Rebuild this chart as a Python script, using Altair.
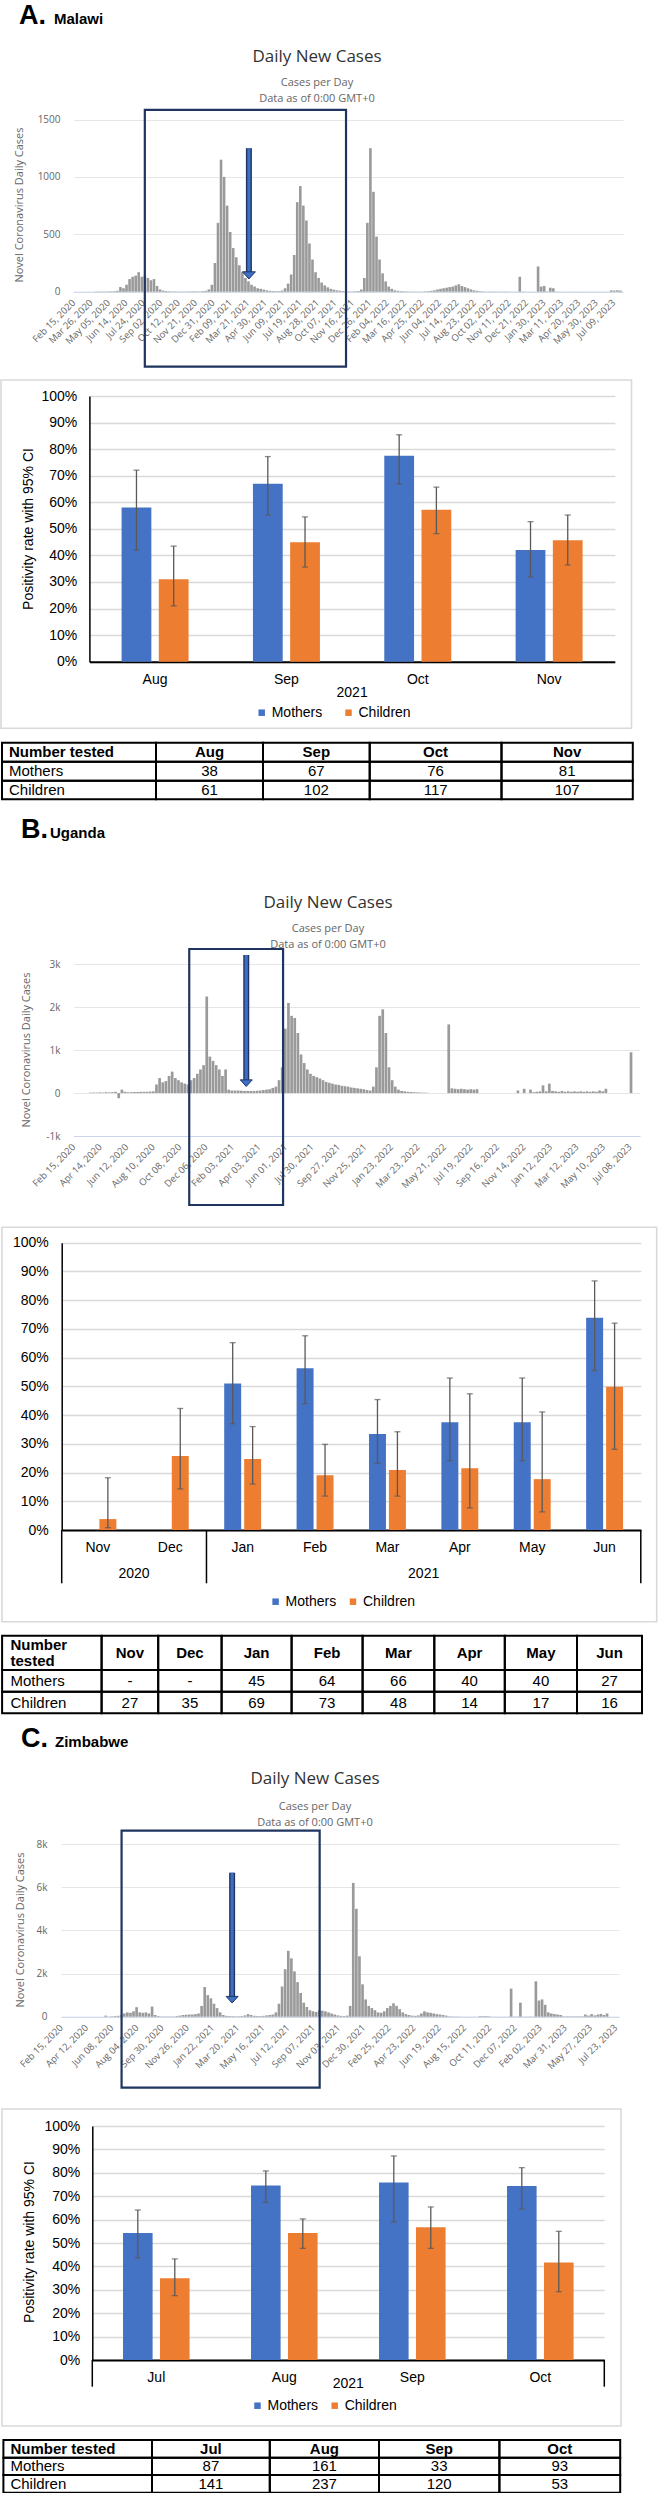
import altair as alt
import pandas as pd

W = 658
HC = "Open Sans"
XL = "Liberation Sans"

# ---------------------------------------------------------------- data
first_week = "2020-02-15"
last_day = "2023-07-31"

# weekly daily-case levels (week starting first_week)
malawi_weekly_cases = [
    0, 0, 0, 0, 0, 0, 0, 1, 1, 2,
    2, 3, 4, 5, 8, 40, 30, 60, 110, 130,
    140, 170, 130, 140, 120, 100, 110, 50, 20, 10,
    6, 4, 3, 3, 2, 2, 2, 3, 3, 4,
    3, 3, 5, 8, 20, 60, 250, 600, 1150, 1000,
    750, 520, 380, 300, 230, 170, 120, 90, 60, 45,
    30, 25, 18, 12, 8, 6, 5, 5, 10, 30,
    70, 150, 320, 780, 920, 750, 620, 420, 280, 170,
    120, 80, 55, 38, 25, 18, 12, 9, 6, 5,
    3, 3, 4, 6, 20, 120, 600, 1250, 870, 480,
    280, 160, 90, 45, 25, 12, 8, 5, 4, 3,
    2, 2, 2, 2, 2, 3, 5, 8, 12, 20,
    25, 30, 35, 40, 45, 55, 65, 50, 40, 30,
    20, 12, 8, 5, 3, 2, 2, 2, 2, 2,
    2, 2, 2, 1, 1, 1, 130, 2, 1, 1,
    1, 1, 220, 45, 50, 3, 35, 30, 2, 1,
    1, 1, 1, 1, 1, 1, 1, 1, 1, 1,
    1, 1, 1, 1, 1, 1, 12, 10, 12, 10,
]
uganda_weekly_cases = [
    0, 0, 0, 0, 0, 10, 12, 10, 15, 12,
    20, 15, 20, 30, -120, 80, 30, 20, 20, 25,
    25, 30, 30, 30, 35, 40, 200, 350, 250, 280,
    400, 500, 350, 300, 250, 220, 200, 300, 350, 450,
    550, 650, 2250, 850, 750, 650, 550, 400, 550, 80,
    60, 60, 60, 55, 50, 50, 50, 50, 55, 60,
    70, 80, 90, 120, 150, 300, 600, 1500, 2100, 1800,
    1750, 1400, 900, 700, 550, 450, 400, 370, 340, 300,
    260, 240, 220, 200, 190, 170, 160, 150, 130, 120,
    110, 100, 90, 70, 60, 150, 600, 1800, 1950, 1400,
    600, 300, 150, 80, 50, 40, 30, 25, 20, 15,
    12, 10, 8, 0, 0, 0, 0, 0, 0, 1600,
    110, 100, 90, 100, 90, 80, 90, 80, 90, 0,
    0, 0, 0, 0, 0, 0, 0, 0, 0, 0,
    0, 60, 0, 100, 0, 80, 20, 30, 40, 180,
    40, 220, 50, 40, 30, 50, 30, 40, 30, 40,
    30, 40, 30, 40, 30, 40, 30, 60, 40, 100,
    0, 0, 0, 0, 0, 0, 0, 950, 0, 0,
]
zimbabwe_weekly_cases = [
    0, 0, 0, 0, 0, 0, 0, 0, 0, 0,
    0, 0, 0, 0, 50, 10, 20, 30, 40, 60,
    150, 200, 180, 250, 440, 200, 180, 200, 150, 470,
    80, 30, 15, 15, 15, 15, 15, 30, 50, 80,
    90, 100, 100, 120, 150, 500, 1375, 1000, 850, 600,
    400, 200, 80, 40, 30, 25, 20, 20, 30, 60,
    120, 80, 40, 30, 30, 40, 60, 80, 100, 200,
    600, 1400, 2200, 3050, 2700, 2100, 1600, 1100, 650, 450,
    300, 250, 220, 300, 280, 250, 200, 150, 100, 60,
    40, 30, 50, 500, 6200, 5000, 2800, 1500, 800, 500,
    400, 300, 200, 180, 250, 400, 500, 620, 500, 350,
    200, 120, 80, 50, 40, 60, 150, 250, 200, 180,
    150, 120, 100, 80, 50, 20, 15, 10, 10, 5,
    5, 5, 5, 5, 5, 30, 25, 30, 20, 5,
    5, 5, 5, 5, 5, 1300, 10, 10, 650, 10,
    10, 10, 10, 1640, 750, 800, 550, 200, 150, 120,
    100, 80, 20, 20, 20, 20, 20, 20, 20, 100,
    50, 120, 60, 100, 130, 80, 150, 0, 0, 0,
]

malawi_tick_dates = [
    "2020-02-15", "2020-03-26", "2020-05-05", "2020-06-14", "2020-07-24", "2020-09-02",
    "2020-10-12", "2020-11-21", "2020-12-31", "2021-02-09", "2021-03-21", "2021-04-30",
    "2021-06-09", "2021-07-19", "2021-08-28", "2021-10-07", "2021-11-16", "2021-12-26",
    "2022-02-04", "2022-03-16", "2022-04-25", "2022-06-04", "2022-07-14", "2022-08-23",
    "2022-10-02", "2022-11-11", "2022-12-21", "2023-01-30", "2023-03-11", "2023-04-20",
    "2023-05-30", "2023-07-09",
]
uganda_tick_dates = [
    "2020-02-15", "2020-04-14", "2020-06-12", "2020-08-10", "2020-10-08", "2020-12-06",
    "2021-02-03", "2021-04-03", "2021-06-01", "2021-07-30", "2021-09-27", "2021-11-25",
    "2022-01-23", "2022-03-23", "2022-05-21", "2022-07-19", "2022-09-16", "2022-11-14",
    "2023-01-12", "2023-03-12", "2023-05-10", "2023-07-08",
]
zimbabwe_tick_dates = [
    "2020-02-15", "2020-04-12", "2020-06-08", "2020-08-04", "2020-09-30", "2020-11-26",
    "2021-01-22", "2021-03-20", "2021-05-16", "2021-07-12", "2021-09-07", "2021-11-03",
    "2021-12-30", "2022-02-25", "2022-04-23", "2022-06-19", "2022-08-15", "2022-10-11",
    "2022-12-07", "2023-02-02", "2023-03-31", "2023-05-27", "2023-07-23",
]

# highlighted study period boxes: [from, to, low value, high value]
malawi_box = ["2020-07-28", "2021-11-02", -653, 1583]
uganda_box = ["2020-10-30", "2021-05-27", -2607, 3356]
zimbabwe_box = ["2020-07-01", "2021-09-22", -3289, 8616]
# arrows: [date, top value, head base value, tip value]
malawi_arrow = ["2021-03-24", 1250, 172, 111]
uganda_arrow = ["2021-03-06", 3217, 310, 154]
zimbabwe_arrow = ["2021-03-08", 6670, 899, 635]

SERIES = ["Mothers", "Children"]
COLORS = ["#4472C4", "#ED7D31"]

malawi_months = ["Aug", "Sep", "Oct", "Nov"]
malawi_years = ["2021", "2021", "2021", "2021"]
malawi_mothers = [58, 67, 77.5, 42]
malawi_mothers_lo = [42, 55.2, 66.9, 31.9]
malawi_mothers_hi = [72.1, 77.2, 85.4, 52.7]
malawi_children = [31, 45, 57.2, 45.7]
malawi_children_lo = [21, 35.6, 48.2, 36.4]
malawi_children_hi = [43.5, 54.5, 65.7, 55.2]
malawi_n_mothers = [38, 67, 76, 81]
malawi_n_children = [61, 102, 117, 107]

uganda_months = ["Nov", "Dec", "Jan", "Feb", "Mar", "Apr", "May", "Jun"]
uganda_years = ["2020", "2020", "2021", "2021", "2021", "2021", "2021", "2021"]
uganda_mothers = [None, None, 51, 56.3, 33.4, 37.5, 37.5, 73.9]
uganda_mothers_lo = [None, None, 37, 44, 23.2, 24.1, 24.1, 55.5]
uganda_mothers_hi = [None, None, 65.2, 67.6, 45.4, 52.9, 52.9, 86.7]
uganda_children = [3.8, 25.8, 24.7, 19.1, 20.9, 21.5, 17.7, 49.9]
uganda_children_lo = [0.8, 14.3, 16.0, 11.8, 11.8, 7.7, 6.3, 28.1]
uganda_children_hi = [18.2, 42.3, 36.0, 29.8, 34.2, 47.4, 41.1, 72.0]
uganda_n_mothers = ["-", "-", 45, 64, 66, 40, 40, 27]
uganda_n_children = [27, 35, 69, 73, 48, 14, 17, 16]

zimbabwe_months = ["Jul", "Aug", "Sep", "Oct"]
zimbabwe_years = ["2021", "2021", "2021", "2021"]
zimbabwe_mothers = [54.3, 74.6, 75.9, 74.4]
zimbabwe_mothers_lo = [43.6, 67.4, 59.0, 64.5]
zimbabwe_mothers_hi = [64.1, 80.8, 87.2, 82.2]
zimbabwe_children = [34.9, 54.3, 56.7, 41.7]
zimbabwe_children_lo = [27.5, 47.7, 47.7, 29.2]
zimbabwe_children_hi = [43.2, 60.3, 65.4, 55.0]
zimbabwe_n_mothers = [87, 161, 33, 93]
zimbabwe_n_children = [141, 237, 120, 53]

HEAD = "M-1,-1.1L1,-1.1L0,0Z"


# ---------------------------------------------------------------- helpers
def dt(s):
    y, m, d = (int(v) for v in s.split("-"))
    return alt.DateTime(year=y, month=m, date=d, utc=True)


def txt(s, x, y, size, color="#000000", font=XL, weight="normal", align="center",
        baseline="alphabetic", angle=0):
    return alt.Chart(pd.DataFrame({"t": [s]})).mark_text(
        align=align, baseline=baseline, fontSize=size, font=font, fontWeight=weight,
        color=color, angle=angle,
    ).encode(x=alt.value(x), y=alt.value(y), text="t:N")


def daily_panel(weekly, ticks, box, arrow, ydom, yvals, ylabel_expr, xr, yr, h,
                letter, country, letter_x, country_x, letter_base, title_x, title_base,
                sub_bases, ytitle_xy, ylab_right, head_w):
    start = pd.date_range(first_week, periods=len(weekly), freq="7D")
    df = pd.DataFrame({
        "start": start.strftime("%Y-%m-%d"),
        "end": (start + pd.Timedelta(days=6)).strftime("%Y-%m-%d"),
        "cases": weekly,
    })
    xs = alt.Scale(type="utc", domain=[dt(first_week), dt(last_day)], range=[xr[0], xr[1]], nice=False)
    ys = alt.Scale(domain=ydom, range=[yr[0], yr[1]], nice=False, zero=False)
    xaxis = alt.Axis(
        values=[dt(t) for t in ticks], format="%b %d, %Y", labelAngle=315,
        labelAlign="right", labelBaseline="middle", labelFont=HC, labelFontSize=9.5,
        labelColor="#666666", ticks=False, tickSize=0, grid=False, domainColor="#ccd6eb",
        domainWidth=1, labelPadding=9, offset=-(h - yr[0]), labelOverlap=False,
        labelFlush=False, labelBound=False, title=None,
    )
    yaxis = alt.Axis(
        values=yvals, labelExpr=ylabel_expr, labelFont=HC, labelFontSize=10,
        labelColor="#666666", ticks=False, tickSize=0, domain=False, grid=True,
        gridColor="#e6e6e6", gridWidth=1, offset=-xr[0], labelPadding=xr[0] - ylab_right,
        labelAlign="right", labelBaseline="middle", labelOverlap=False, title=None,
    )

    def X(f):
        return alt.X(f, scale=xs, axis=xaxis)

    def Y(f):
        return alt.Y(f, scale=ys, axis=yaxis)

    bars = alt.Chart(df).mark_rect(color="#9a9a9a").encode(
        x=X("start:T"), x2="end:T", y=Y("cases:Q"), y2=alt.datum(0))
    bdf = pd.DataFrame({"d0": [box[0]], "d1": [box[1]], "v0": [box[2]], "v1": [box[3]]})
    boxl = alt.Chart(bdf).mark_rect(fillOpacity=0, stroke="#1f3560", strokeWidth=2.2).encode(
        x=X("d0:T"), x2="d1:T", y=Y("v0:Q"), y2="v1:Q")
    adf = pd.DataFrame({"d": [arrow[0]], "top": [arrow[1]], "base": [arrow[2]], "tip": [arrow[3]]})
    shaft_o = alt.Chart(adf).mark_rule(color="#1f3560", strokeWidth=6).encode(
        x=X("d:T"), y=Y("top:Q"), y2="base:Q")
    shaft_i = alt.Chart(adf).mark_rule(color="#3f6fc4", strokeWidth=3.2).encode(
        x=X("d:T"), y=Y("top:Q"), y2="base:Q")
    head = alt.Chart(adf).mark_point(
        shape=HEAD, filled=True, fill="#3f6fc4", stroke="#1f3560", strokeWidth=1,
        size=head_w * head_w, opacity=1,
    ).encode(x=X("d:T"), y=Y("tip:Q"))

    layers = [
        bars, boxl, shaft_o, shaft_i, head,
        txt(letter, letter_x, letter_base, 27, weight="bold", align="left"),
        txt(country, country_x, letter_base, 15, weight="bold", align="left"),
        txt("Daily New Cases", title_x, title_base, 17, color="#333333", font=HC),
        txt("Cases per Day", title_x, sub_bases[0], 11, color="#666666", font=HC),
        txt("Data as of 0:00 GMT+0", title_x, sub_bases[1], 11, color="#666666", font=HC),
        txt("Novel Coronavirus Daily Cases", ytitle_xy[0], ytitle_xy[1], 11, color="#666666",
            font=HC, baseline="middle", angle=270),
    ]
    return alt.layer(*layers).properties(width=W, height=h)


def bar_panel(months, years, mothers, m_lo, m_hi, children, c_lo, c_hi, xr, yr, h, pin, opad,
              box, legend_pos, cpad, ytitle_xy, year_y, sep_mode, sep_y2, ylab_right, month_pad):
    recs = []
    for i, m in enumerate(months):
        for s, v, lo, hi in (("Mothers", mothers[i], m_lo[i], m_hi[i]),
                             ("Children", children[i], c_lo[i], c_hi[i])):
            if v is None:
                continue
            recs.append({"month": m, "series": s, "value": v, "lo": lo, "hi": hi})
    df = pd.DataFrame(recs)
    xs = alt.Scale(domain=months, range=[xr[0], xr[1]], paddingInner=pin, paddingOuter=pin / 2)
    xos = alt.Scale(domain=SERIES, paddingInner=opad, paddingOuter=0)
    ys = alt.Scale(domain=[0, 100], range=[yr[0], yr[1]], nice=False)
    xaxis = alt.Axis(
        title=None, labelAngle=0, labelFont=XL, labelFontSize=14, labelColor="#000000",
        labelBaseline="middle", labelPadding=month_pad, ticks=False, tickSize=0,
        domainColor="#000000", domainWidth=2, grid=False, offset=-(h - yr[0]),
    )
    yaxis = alt.Axis(
        title=None, values=list(range(0, 101, 10)), labelExpr="datum.value + '%'",
        labelFont=XL, labelFontSize=14, labelColor="#000000", labelPadding=xr[0] - ylab_right,
        ticks=False, tickSize=0, domainColor="#000000", domainWidth=1.5, grid=True,
        gridColor="#d9d9d9", gridWidth=1.5, offset=-xr[0], labelOverlap=False,
    )
    X = alt.X("month:N", scale=xs, axis=xaxis, sort=months)
    XO = alt.XOffset("series:N", scale=xos, sort=SERIES)
    bars = alt.Chart(df).mark_bar().encode(
        x=X, xOffset=XO, y=alt.Y("value:Q", scale=ys, axis=yaxis),
        color=alt.Color(
            "series:N", sort=SERIES, scale=alt.Scale(domain=SERIES, range=COLORS),
            legend=alt.Legend(
                orient="none", legendX=legend_pos[0], legendY=legend_pos[1],
                direction="horizontal", title=None, symbolType="square", symbolSize=42,
                symbolStrokeWidth=0, labelFont=XL, labelFontSize=14, labelColor="#000000",
                labelOffset=3, columnPadding=cpad, padding=0,
            ),
        ),
    )
    err = alt.Chart(df).mark_rule(color="#595959", strokeWidth=1.3).encode(
        x=X, xOffset=XO, y=alt.Y("lo:Q", scale=ys, axis=yaxis), y2="hi:Q")
    cap_lo = alt.Chart(df).mark_tick(color="#595959", thickness=1.3, size=6, orient="horizontal").encode(
        x=X, xOffset=XO, y=alt.Y("lo:Q", scale=ys, axis=yaxis))
    cap_hi = alt.Chart(df).mark_tick(color="#595959", thickness=1.3, size=6, orient="horizontal").encode(
        x=X, xOffset=XO, y=alt.Y("hi:Q", scale=ys, axis=yaxis))
    inner = alt.layer(bars, err, cap_lo, cap_hi)

    groups = []
    for i, yv in enumerate(years):
        if groups and groups[-1]["year"] == yv:
            groups[-1]["end"] = i + 1
        else:
            groups.append({"year": yv, "start": i, "end": i + 1})
    gdf = pd.DataFrame([{"year": g["year"], "pos": (g["start"] + g["end"]) / 2} for g in groups])
    idx = alt.Scale(domain=[0, len(months)], range=[xr[0], xr[1]], nice=False, zero=False)
    annot_layers = [
        alt.Chart(gdf).mark_text(font=XL, fontSize=14, color="#000000", baseline="middle").encode(
            x=alt.X("pos:Q", scale=idx, axis=None), y=alt.value(year_y), text="year:N")
    ]
    if sep_mode:
        if sep_mode == "groups":
            bpos = sorted(set([g["start"] for g in groups] + [len(months)]))
        else:
            bpos = [0, len(months)]
        sdf = pd.DataFrame({"pos": bpos})
        annot_layers.append(
            alt.Chart(sdf).mark_rule(color="#000000", strokeWidth=1.5).encode(
                x=alt.X("pos:Q", scale=idx, axis=None), y=alt.value(yr[0]), y2=alt.value(sep_y2))
        )
    annot = alt.layer(*annot_layers)
    frame = alt.Chart(pd.DataFrame({"a": [0]})).mark_rect(
        fillOpacity=0, stroke="#d9d9d9", strokeWidth=1.6
    ).encode(x=alt.value(box[0]), x2=alt.value(box[1]), y=alt.value(box[2]), y2=alt.value(box[3]))
    layers = [frame, inner, annot]
    if ytitle_xy:
        layers.append(txt("Positivity rate with 95% CI", ytitle_xy[0], ytitle_xy[1], 14,
                          baseline="middle", angle=270))
    return alt.layer(*layers).resolve_scale(x="independent").properties(width=W, height=h)


def table_panel(header_label, months, n_mothers, n_children, cols, rows_y, h, text_dx, line_h=16):
    n = len(cols) - 1
    cells = []
    for r in range(3):
        for c in range(n):
            cells.append({"x0": cols[c], "x1": cols[c + 1], "y0": rows_y[r], "y1": rows_y[r + 1]})
    tx = alt.Scale(domain=[0, W], range=[0, W], nice=False, zero=False)
    ty = alt.Scale(domain=[0, h], range=[0, h], nice=False, zero=False)
    grid = alt.Chart(pd.DataFrame(cells)).mark_rect(fillOpacity=0, stroke="#000000", strokeWidth=2).encode(
        x=alt.X("x0:Q", scale=tx, axis=None), x2="x1:Q",
        y=alt.Y("y0:Q", scale=ty, axis=None), y2="y1:Q")
    rc = [(rows_y[r] + rows_y[r + 1]) / 2 for r in range(3)]
    cc = [(cols[c] + cols[c + 1]) / 2 for c in range(n)]

    def tl(recs, align, weight):
        return alt.Chart(pd.DataFrame(recs)).mark_text(
            align=align, baseline="middle", font=XL, fontSize=15, fontWeight=weight,
            color="#000000", lineBreak="\n", lineHeight=line_h,
        ).encode(x=alt.X("x:Q", scale=tx, axis=None), y=alt.Y("y:Q", scale=ty, axis=None), text="t:N")

    n_lines = header_label.count("\n") + 1
    head_left = tl([{"x": cols[0] + text_dx, "y": rc[0] - (n_lines - 1) * line_h / 2,
                     "t": header_label}], "left", "bold")
    head_vals = tl([{"x": cc[c + 1], "y": rc[0], "t": months[c]} for c in range(n - 1)], "center", "bold")
    body_left = tl([{"x": cols[0] + text_dx, "y": rc[1], "t": SERIES[0]},
                    {"x": cols[0] + text_dx, "y": rc[2], "t": SERIES[1]}], "left", "normal")
    body_vals = tl([{"x": cc[c + 1], "y": rc[1], "t": str(n_mothers[c])} for c in range(n - 1)]
                   + [{"x": cc[c + 1], "y": rc[2], "t": str(n_children[c])} for c in range(n - 1)],
                   "center", "normal")
    return alt.layer(grid, head_left, head_vals, body_left, body_vals).properties(width=W, height=h)


K_EXPR = "datum.value == 0 ? '0' : (datum.value / 1000) + 'k'"

s1 = daily_panel(malawi_weekly_cases, malawi_tick_dates, malawi_box, malawi_arrow,
                 [0, 1500], [0, 500, 1000, 1500], "'' + datum.value",
                 (73.4, 623), (291.7, 119.5), 376, "A.", "Malawi", 19, 54, 24,
                 317, 62, (86, 101.5), (19.7, 205), 60, 13)
s2 = bar_panel(malawi_months, malawi_years, malawi_mothers, malawi_mothers_lo, malawi_mothers_hi,
               malawi_children, malawi_children_lo, malawi_children_hi,
               (89.4, 614.8), (285.7, 20), 360, 0.49, 0.2, (1, 631.5, 4, 352.3),
               (254.7, 329.7), 18.8, (28.5, 153), 317.3, None, None, 76.8, 17.6)
s3 = table_panel("Number tested", malawi_months, malawi_n_mothers, malawi_n_children,
                 [2, 156, 263, 369.7, 501.5, 632.8], [6.7, 25.7, 44.7, 63.3], 69, 7)
s4 = daily_panel(uganda_weekly_cases, uganda_tick_dates, uganda_box, uganda_arrow,
                 [-1000, 3000], [-1000, 0, 1000, 2000, 3000], K_EXPR,
                 (73.4, 640), (331, 159.3), 410, "B.", "Uganda", 21, 50, 33.3,
                 328, 103, (126.5, 143), (27, 245), 60, 12)
s5 = bar_panel(uganda_months, uganda_years, uganda_mothers, uganda_mothers_lo, uganda_mothers_hi,
               uganda_children, uganda_children_lo, uganda_children_hi,
               (61.7, 640.8), (315, 27.7), 413, 0.49, 0.15, (2, 656.7, 12.3, 406.7),
               (268.6, 379.7), 9.4, None, 359, "groups", 368.3, 48.3, 17.3)
s6 = table_panel("Number\ntested", uganda_months, uganda_n_mothers, uganda_n_children,
                 [2.1, 101.6, 158.2, 221.6, 291.6, 362.6, 434.3, 504.8, 577, 642],
                 [7.7, 42, 63.7, 85.3], 90, 8.4, line_h=16.7)
s7 = daily_panel(zimbabwe_weekly_cases, zimbabwe_tick_dates, zimbabwe_box, zimbabwe_arrow,
                 [0, 8000], [0, 2000, 4000, 6000, 8000], K_EXPR,
                 (61, 619), (298.7, 126), 382, "C.", "Zimbabwe", 21, 55, 29,
                 315, 66, (92, 108), (21, 212), 47, 12)
s8 = bar_panel(zimbabwe_months, zimbabwe_years, zimbabwe_mothers, zimbabwe_mothers_lo,
               zimbabwe_mothers_hi, zimbabwe_children, zimbabwe_children_lo, zimbabwe_children_hi,
               (92.3, 604.3), (260, 26), 334, 0.48, 0.2, (2, 621, 9, 326),
               (250.5, 298.7), 9.2, (30.2, 142), 284, "edges", 286.7, 79.7, 17.7)
s9 = table_panel("Number tested", zimbabwe_months, zimbabwe_n_mothers, zimbabwe_n_children,
                 [3.4, 152, 269.8, 379, 499.4, 620.2], [6, 23.7, 41, 58.7], 59, 7)

chart = alt.vconcat(
    s1, s2, s3, s4, s5, s6, s7, s8, s9, spacing=0, bounds="flush"
).resolve_scale(
    x="independent", y="independent", color="independent", xOffset="independent"
).resolve_legend(color="independent").properties(
    padding=0, background="white"
).configure_view(stroke=None)

chart.save("out.html", embed_options={"renderer": "svg", "actions": False})
